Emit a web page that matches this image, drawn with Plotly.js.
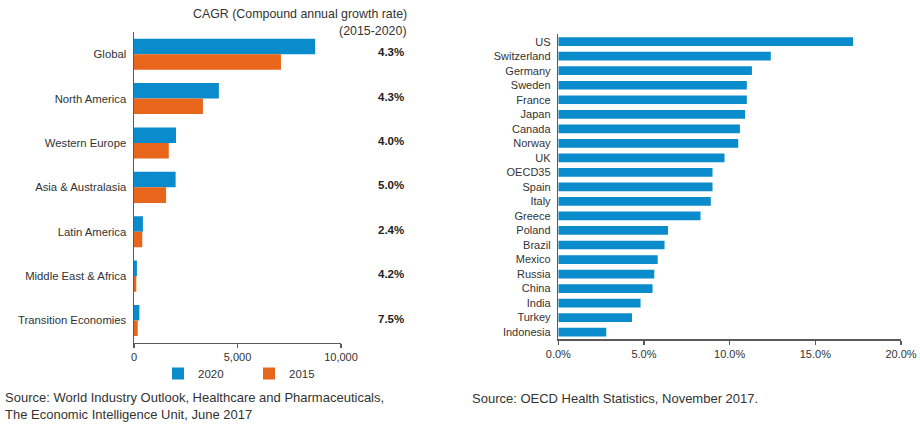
<!DOCTYPE html>
<html><head><meta charset="utf-8">
<script src="https://cdn.plot.ly/plotly-3.0.1.min.js"></script>
<style>html,body{margin:0;padding:0;background:#fff}#c{width:920px;height:426px}</style>
</head><body><div id="c"></div>
<script>
// Left chart: market size by region
const regions = ["Global","North America","Western Europe","Asia & Australasia","Latin America","Middle East & Africa","Transition Economies"];
const values2020 = [8750, 4100, 2030, 2010, 430, 140, 260];
const values2015 = [7100, 3330, 1680, 1550, 400, 110, 180];
const cagrLabels = ["4.3%","4.3%","4.0%","5.0%","2.4%","4.2%","7.5%"];
const leftTicks = [0, 5000, 10000];
const leftTickLabels = ["0","5,000","10,000"];

// Right chart: health spending share of GDP
const countries = ["US","Switzerland","Germany","Sweden","France","Japan","Canada","Norway","UK","OECD35","Spain","Italy","Greece","Poland","Brazil","Mexico","Russia","China","India","Turkey","Indonesia"];
const spendShare = [17.2, 12.4, 11.3, 11.0, 11.0, 10.9, 10.6, 10.5, 9.7, 9.0, 9.0, 8.9, 8.3, 6.4, 6.2, 5.8, 5.6, 5.5, 4.8, 4.3, 2.8];
const rightTicks = [0, 5, 10, 15, 20];
const rightTickLabels = ["0.0%","5.0%","10.0%","15.0%","20.0%"];

const BLUE = "#0a8bcb", ORANGE = "#e8661c", AX = "#5a5a5a", TXT = "#333";
const FONT = "Liberation Sans, Arial, sans-serif";

const traces = [
  {type:"bar", orientation:"h", name:"2020", y:regions, x:values2020, marker:{color:BLUE}, xaxis:"x", yaxis:"y", hoverinfo:"x"},
  {type:"bar", orientation:"h", name:"2015", y:regions, x:values2015, marker:{color:ORANGE}, xaxis:"x", yaxis:"y", hoverinfo:"x"},
  {type:"bar", orientation:"h", name:"share", y:countries, x:spendShare, marker:{color:BLUE}, width:0.6, xaxis:"x2", yaxis:"y2", showlegend:false, hoverinfo:"x"}
];

const annotations = [];
regions.forEach((r,i)=>{
  annotations.push({xref:"paper", yref:"y", x:406/920, y:r, yshift:2, xanchor:"right", yanchor:"middle",
    text:"<b>"+cagrLabels[i]+"</b>", showarrow:false, font:{size:11.5, color:"#222", family:FONT}});
});
annotations.push({xref:"paper", yref:"paper", x:409/920, y:1-14/426, xanchor:"right", yanchor:"middle",
  text:"CAGR (Compound annual growth rate)", showarrow:false, font:{size:12.4, color:TXT, family:FONT}});
annotations.push({xref:"paper", yref:"paper", x:409/920, y:1-31/426, xanchor:"right", yanchor:"middle",
  text:"(2015-2020)", showarrow:false, font:{size:12.4, color:TXT, family:FONT}});
annotations.push({xref:"paper", yref:"paper", x:3/920, y:1-406/426, xanchor:"left", yanchor:"middle", align:"left",
  text:"Source: World Industry Outlook, Healthcare and Pharmaceuticals,<br>The Economic Intelligence Unit, June 2017", showarrow:false, font:{size:13, color:TXT, family:FONT}});
annotations.push({xref:"paper", yref:"paper", x:470/920, y:1-398/426, xanchor:"left", yanchor:"middle", align:"left",
  text:"Source: OECD Health Statistics, November 2017.", showarrow:false, font:{size:13, color:TXT, family:FONT}});

const axBase = {showgrid:false, zeroline:false, showline:true, linecolor:AX, linewidth:1.5, fixedrange:true,
  tickfont:{size:11, color:TXT, family:FONT}};

const layout = {
  width:920, height:426, margin:{l:0, r:0, t:0, b:0},
  paper_bgcolor:"#fff", plot_bgcolor:"#fff",
  font:{family:FONT, color:TXT, size:11},
  barmode:"group", bargap:0.3, bargroupgap:0,
  showlegend:true,
  legend:{orientation:"h", x:158/920, y:1-359/426, xanchor:"left", yanchor:"top", entrywidth:46, entrywidthmode:"pixels",
    bgcolor:"rgba(0,0,0,0)", font:{size:11.5, color:TXT, family:FONT}, traceorder:"normal", itemwidth:30},
  xaxis:Object.assign({}, axBase, {domain:[134/920, 341/920], range:[0,10000], tickmode:"array", tickvals:leftTicks, ticktext:leftTickLabels,
    ticks:"outside", ticklen:4, tickcolor:AX, tickwidth:1.5, anchor:"y"}),
  yaxis:Object.assign({}, axBase, {domain:[(426-342.7)/426, (426-32)/426], type:"category", categoryorder:"array",
    categoryarray:regions, autorange:"reversed", ticks:"", anchor:"x", ticklabelstandoff:4, tickfont:{size:11.3, color:TXT, family:FONT}}),
  xaxis2:Object.assign({}, axBase, {domain:[558.3/920, 901/920], range:[0,20], tickmode:"array", tickvals:rightTicks, ticktext:rightTickLabels,
    ticks:"outside", ticklen:4, tickcolor:AX, tickwidth:1.5, anchor:"y2"}),
  yaxis2:Object.assign({}, axBase, {domain:[(426-339.4)/426, (426-34.4)/426], type:"category", categoryorder:"array",
    categoryarray:countries, autorange:"reversed", ticks:"", anchor:"x2", ticklabelstandoff:4}),
  annotations:annotations
};

Plotly.newPlot("c", traces, layout, {displayModeBar:false, staticPlot:true});
</script></body></html>
